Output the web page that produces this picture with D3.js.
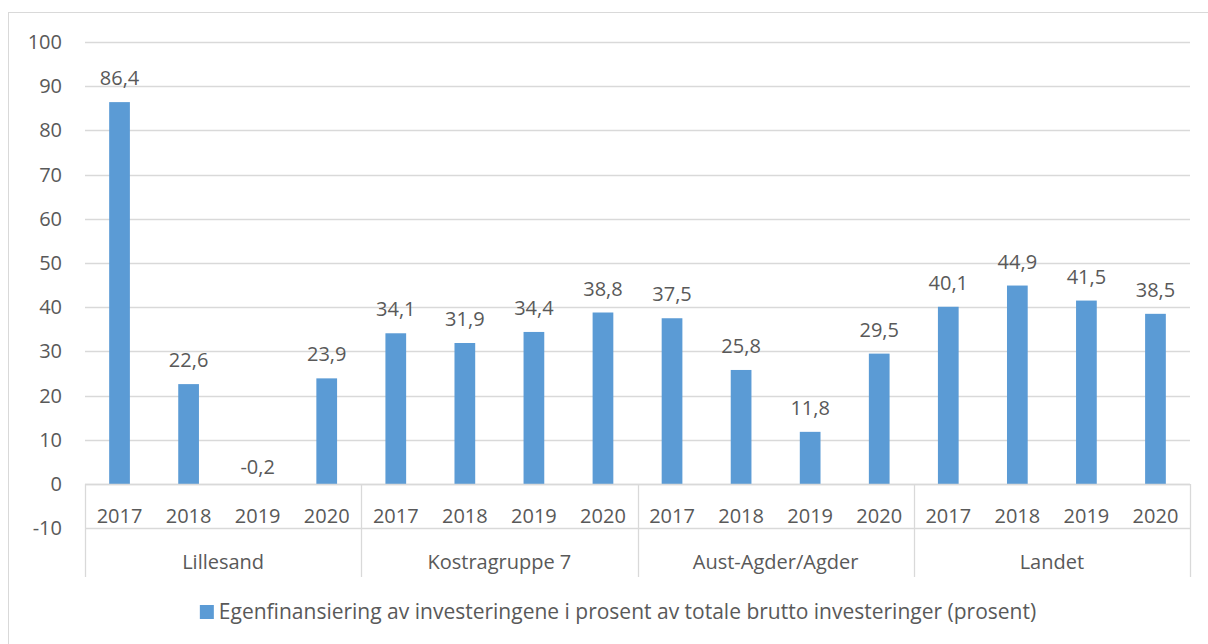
<!DOCTYPE html>
<html>
<head>
<meta charset="utf-8">
<script src="https://cdn.jsdelivr.net/npm/d3@7"></script>
<style>
  body { margin: 0; background: #fff; }
  text { font-family: "Open Sans", sans-serif; fill: #595959; }
</style>
</head>
<body>
<div id="chart"></div>
<script>
const groups = ["Lillesand", "Kostragruppe 7", "Aust-Agder/Agder", "Landet"];
const years = ["2017", "2018", "2019", "2020"];
const values = [86.4, 22.6, -0.2, 23.9, 34.1, 31.9, 34.4, 38.8, 37.5, 25.8, 11.8, 29.5, 40.1, 44.9, 41.5, 38.5];
const yTicks = [-10, 0, 10, 20, 30, 40, 50, 60, 70, 80, 90, 100];
const seriesName = "Egenfinansiering av investeringene i prosent av totale brutto investeringer (prosent)";

const width = 1208, height = 644;
const plotLeft = 85, plotRight = 1190, plotTop = 42, zeroY = 484;
const grid = "#d9d9d9", barColor = "#5b9bd5";
const fs = "20px";

const svg = d3.select("#chart").append("svg")
  .attr("width", width).attr("height", height);

// outer frame
svg.append("rect")
  .attr("x", 8.5).attr("y", 12.5)
  .attr("width", 1220).attr("height", 660)
  .attr("fill", "none").attr("stroke", grid);

const y = d3.scaleLinear().domain([-10, 100]).range([zeroY + 44.2, plotTop]);
const x = d3.scaleBand()
  .domain(values.map((d, i) => i))
  .range([plotLeft, plotRight])
  .paddingInner(0.7)
  .paddingOuter(0.35);

// gridlines
svg.append("g").selectAll("line")
  .data(yTicks)
  .enter().append("line")
  .attr("x1", plotLeft).attr("x2", plotRight)
  .attr("y1", d => Math.round(y(d)) + 0.5)
  .attr("y2", d => Math.round(y(d)) + 0.5)
  .attr("stroke", grid).attr("stroke-width", 1.3);

// y tick labels
svg.append("g").selectAll("text")
  .data(yTicks)
  .enter().append("text")
  .attr("x", 62)
  .attr("y", d => y(d) + 7)
  .attr("text-anchor", "end")
  .style("font-size", fs)
  .text(d => d);

// bars
svg.append("g").selectAll("rect")
  .data(values)
  .enter().append("rect")
  .attr("x", (d, i) => x(i))
  .attr("width", x.bandwidth())
  .attr("y", d => y(Math.max(d, 0)))
  .attr("height", d => Math.max(Math.abs(y(d) - y(0)), 1))
  .attr("fill", barColor);

// data labels
svg.append("g").selectAll("text")
  .data(values)
  .enter().append("text")
  .attr("x", (d, i) => x(i) + x.bandwidth() / 2)
  .attr("y", d => y(Math.max(d, 0)) - (d < 0 ? 10 : 17))
  .attr("text-anchor", "middle")
  .style("font-size", fs)
  .text(d => d3.format(".1f")(d).replace(".", ",").replace("−", "-"));

// category axis
const step = x.step();
const axis = svg.append("g");
axis.append("line")
  .attr("x1", plotLeft).attr("x2", plotRight)
  .attr("y1", zeroY + 0.5).attr("y2", zeroY + 0.5)
  .attr("stroke", grid).attr("stroke-width", 1.3);

const bounds = d3.range(groups.length + 1).map(g => plotLeft + g * years.length * step);
axis.selectAll(".sep")
  .data(bounds)
  .enter().append("line")
  .attr("class", "sep")
  .attr("x1", d => Math.round(d) + 0.5).attr("x2", d => Math.round(d) + 0.5)
  .attr("y1", zeroY).attr("y2", 577)
  .attr("stroke", grid).attr("stroke-width", 1.3);

axis.selectAll(".year")
  .data(values)
  .enter().append("text")
  .attr("class", "year")
  .attr("x", (d, i) => x(i) + x.bandwidth() / 2)
  .attr("y", 523)
  .attr("text-anchor", "middle")
  .style("font-size", fs)
  .text((d, i) => years[i % years.length]);

axis.selectAll(".grp")
  .data(groups)
  .enter().append("text")
  .attr("class", "grp")
  .attr("x", (d, i) => (bounds[i] + bounds[i + 1]) / 2)
  .attr("y", 569)
  .attr("text-anchor", "middle")
  .style("font-size", fs)
  .text(d => d);

// legend
const legend = svg.append("g");
const lt = legend.append("text")
  .attr("y", 619)
  .style("font-size", "21px")
  .text(seriesName);
const tw = lt.node().getComputedTextLength();
const totalW = 14 + 5 + tw;
const lx = 618 - totalW / 2;
legend.append("rect")
  .attr("x", lx).attr("y", 605)
  .attr("width", 14).attr("height", 14)
  .attr("fill", barColor);
lt.attr("x", lx + 19);
</script>
</body>
</html>
